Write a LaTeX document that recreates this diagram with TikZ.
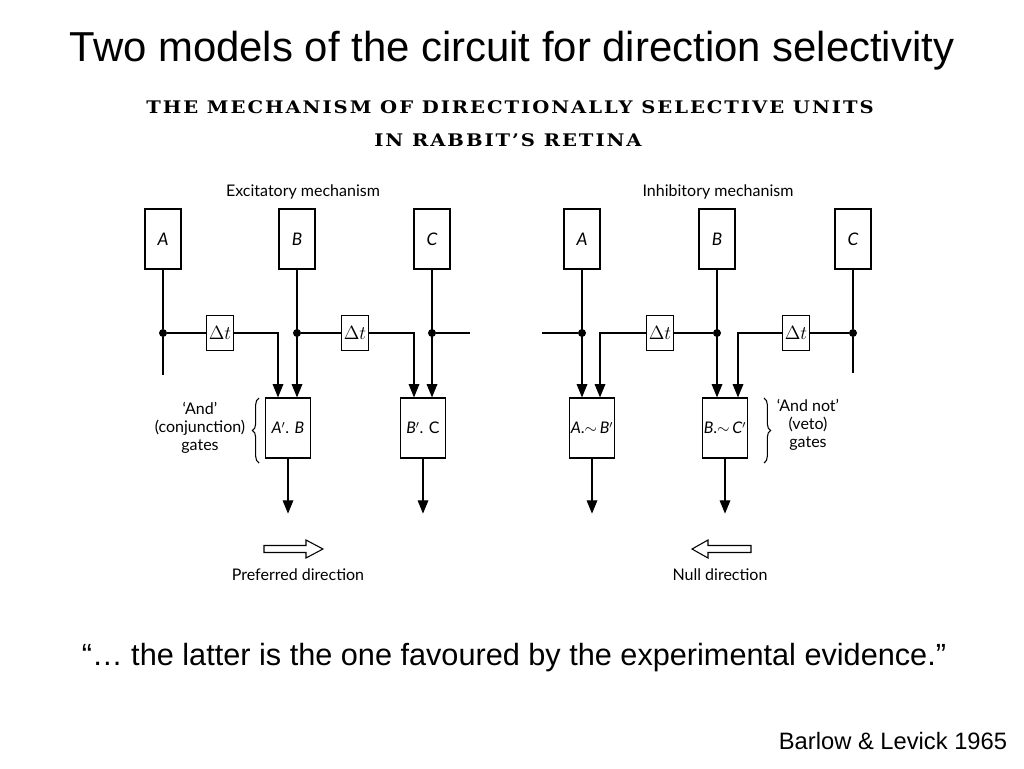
\documentclass[tikz,border=0pt]{standalone}
\usepackage{fontspec}
\setmainfont{Liberation Sans}
\newfontfamily\gillfont{Lato}
\newfontfamily\headfont[LetterSpace=10]{DejaVu Serif}
\usepackage{tikz}
\usetikzlibrary{arrows.meta}
\usetikzlibrary{calc}
\usetikzlibrary{decorations.pathreplacing}
\tikzset{>={Triangle[length=10pt,width=8pt]}}
\tikzset{
	wire/.style={line width=0.9pt},
	cellbox/.style={draw, line width=0.9pt, minimum width=27pt, minimum height=45pt, inner sep=0pt, font=\gillfont\itshape\fontsize{13}{15}\selectfont},
	delaybox/.style={draw, line width=0.9pt, minimum width=20pt, minimum height=26pt, inner sep=0pt, font=\fontsize{14}{16}\selectfont},
	gatebox/.style={draw, line width=0.9pt, minimum width=34pt, minimum height=45pt, inner sep=0pt, font=\gillfont\fontsize{12}{14}\selectfont},
	junction/.style={circle, fill, inner sep=0pt, minimum size=6pt},
	lbl/.style={font=\gillfont\fontsize{12}{13.5}\selectfont, align=center},
	headline/.style={font=\headfont\bfseries\fontsize{13}{16}\selectfont},
	brace/.style={line width=0.8pt, decorate, decoration={brace, amplitude=5pt}},
}

\begin{document}
\begin{tikzpicture}[x=0.75pt, y=-0.75pt]
	\useasboundingbox (0,0) rectangle (1024,768);
	
	\node[font=\fontsize{31.4}{36}\selectfont] (title) at (512,51) {Two models of the circuit for direction selectivity};
	\node[headline] (head1) at (510,107) {\scalebox{1.13}[1]{THE MECHANISM OF DIRECTIONALLY SELECTIVE UNITS}};
	\node[headline] (head2) at (508,140) {\scalebox{1.13}[1]{IN RABBIT’S RETINA}};
	
	% excitatory mechanism
	\node[lbl] (exTitle) at (303,192) {Excitatory mechanism};
	\node[cellbox] (exA) at (163,239) {A};
	\node[cellbox] (exB) at (297,239) {B};
	\node[cellbox] (exC) at (432,239) {C};
	\node[junction] (exJA) at (163,333) {};
	\node[junction] (exJB) at (297,333) {};
	\node[junction] (exJC) at (432,333) {};
	\node[delaybox] (exD1) at (220,333) {$\Delta t$};
	\node[delaybox] (exD2) at (355,333) {$\Delta t$};
	\node[gatebox] (exG1) at (288,428) {\textit{A}$'$. \textit{B}};
	\node[gatebox] (exG2) at (423,428) {\textit{B}$'$. C};
	\coordinate (exEndA) at (163,375);
	\coordinate (exEndC) at (470,333);
	
	\draw[wire] (exA) -- (exJA) -- (exEndA);
	\draw[wire] (exJA) -- (exD1);
	\draw[wire,->] (exD1) -| ($(exG1.north)+(-10,0)$);
	\draw[wire,->] (exB) -- (exB |- exG1.north);
	\draw[wire] (exJB) -- (exD2);
	\draw[wire,->] (exD2) -| ($(exG2.north)+(-9,0)$);
	\draw[wire,->] (exC) -- (exC |- exG2.north);
	\draw[wire] (exJC) -- (exEndC);
	\draw[wire,->] (exG1.south) -- ++(0,55);
	\draw[wire,->] (exG2.south) -- ++(0,55);
	
	\draw[brace] (259,463) -- (259,398);
	\node[lbl] (exNote) at (200,428) {‘And’\\(conjunction)\\gates};
	
	\draw[line width=0.8pt] (264,545.5) -- (306,545.5) -- (306,540) -- (323,549) -- (306,558) -- (306,552.5) -- (264,552.5) -- cycle;
	\node[lbl] (exDir) at (298,575) {Preferred direction};
	
	% inhibitory mechanism
	\node[lbl] (inTitle) at (718,192) {Inhibitory mechanism};
	\node[cellbox] (inA) at (582,239) {A};
	\node[cellbox] (inB) at (717,239) {B};
	\node[cellbox] (inC) at (853,239) {C};
	\node[junction] (inJA) at (582,333) {};
	\node[junction] (inJB) at (717,333) {};
	\node[junction] (inJC) at (853,333) {};
	\node[delaybox] (inD1) at (660,333) {$\Delta t$};
	\node[delaybox] (inD2) at (796,333) {$\Delta t$};
	\node[gatebox] (inG1) at (592,428) {\textit{A}.$\sim$\,\textit{B}$'$};
	\node[gatebox] (inG2) at (725,428) {\textit{B}.$\sim$\,\textit{C}$'$};
	\coordinate (inEndA) at (542,333);
	\coordinate (inEndC) at (853,373);
	
	\draw[wire] (inEndA) -- (inJA);
	\draw[wire,->] (inA) -- (inA |- inG1.north);
	\draw[wire] (inJB) -- (inD1);
	\draw[wire,->] (inD1) -| ($(inG1.north)+(8,0)$);
	\draw[wire,->] (inB) -- (inB |- inG2.north);
	\draw[wire] (inJC) -- (inD2);
	\draw[wire,->] (inD2) -| ($(inG2.north)+(13,0)$);
	\draw[wire] (inC) -- (inJC) -- (inEndC);
	\draw[wire,->] (inG1.south) -- ++(0,55);
	\draw[wire,->] (inG2.south) -- ++(0,55);
	
	\draw[brace] (764,398) -- (764,463);
	\node[lbl] (inNote) at (808,425) {‘And not’\\(veto)\\gates};
	
	\draw[line width=0.8pt] (751,545.5) -- (708,545.5) -- (708,540) -- (692,549) -- (708,558) -- (708,552.5) -- (751,552.5) -- cycle;
	\node[lbl] (inDir) at (720,575) {Null direction};
	
	\node[font=\fontsize{23}{28}\selectfont] (quote) at (514,658) {“… the latter is the one favoured by the experimental evidence.”};
	\node[font=\fontsize{17.8}{21}\selectfont] (cite) at (893,741) {Barlow \& Levick 1965};
\end{tikzpicture}
\end{document}
